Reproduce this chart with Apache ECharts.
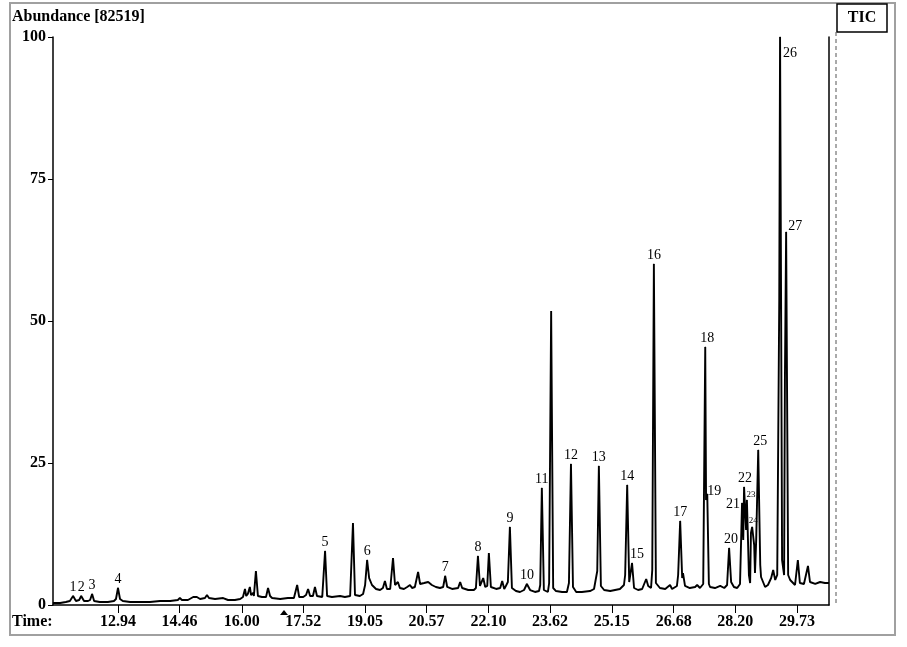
<!DOCTYPE html>
<html>
<head>
<meta charset="utf-8">
<script src="https://cdn.jsdelivr.net/npm/echarts@6/dist/echarts.min.js"></script>
<style>html,body{margin:0;padding:0;background:#fff;}#chart{width:907px;height:647px;}</style>
</head>
<body>
<div id="chart"></div>
<script>
// Retention time (min) of trace points
var times = [11.33,11.51,11.65,11.75,11.83,11.90,11.98,12.03,12.10,12.20,12.25,12.30,12.35,12.49,12.69,12.84,12.89,12.94,12.99,13.06,
13.24,13.48,13.73,13.98,14.23,14.42,14.47,14.52,14.67,14.80,14.84,14.89,14.97,15.09,15.14,15.19,15.34,15.54,15.66,15.83,
15.96,16.03,16.08,16.11,16.15,16.20,16.23,16.28,16.30,16.35,16.40,16.50,16.60,16.65,16.70,16.75,16.95,17.14,17.29,17.37,
17.42,17.52,17.59,17.64,17.69,17.76,17.81,17.86,17.99,18.03,18.06,18.11,18.23,18.43,18.55,18.68,18.75,18.80,18.92,19.00,
19.05,19.10,19.15,19.22,19.32,19.42,19.49,19.54,19.59,19.67,19.74,19.79,19.86,19.91,20.01,20.09,20.16,20.21,20.28,20.36,
20.41,20.51,20.61,20.70,20.80,20.90,20.98,21.03,21.08,21.20,21.35,21.40,21.45,21.60,21.74,21.79,21.84,21.89,21.97,22.02,
22.07,22.11,22.16,22.29,22.39,22.44,22.49,22.53,22.58,22.63,22.68,22.78,22.88,22.98,23.05,23.13,23.25,23.35,23.38,23.42,
23.47,23.57,23.60,23.65,23.70,23.77,23.92,24.04,24.09,24.14,24.19,24.27,24.41,24.61,24.71,24.79,24.83,24.88,24.96,25.11,
25.23,25.35,25.45,25.48,25.53,25.58,25.65,25.70,25.80,25.90,26.00,26.05,26.12,26.15,26.19,26.24,26.34,26.47,26.59,26.64,
26.76,26.79,26.84,26.89,26.91,26.96,27.08,27.21,27.26,27.33,27.41,27.46,27.48,27.51,27.55,27.58,27.70,27.83,27.93,28.00,
28.05,28.10,28.17,28.25,28.32,28.37,28.40,28.42,28.47,28.49,28.54,28.57,28.59,28.62,28.67,28.69,28.72,28.77,28.82,28.84,
28.94,29.01,29.09,29.14,29.19,29.24,29.29,29.31,29.36,29.41,29.43,29.46,29.51,29.56,29.68,29.75,29.80,29.90,30.00,30.05,
30.18,30.30,30.42,30.52];
// Relative abundance (%) of trace points
var abundance = [0.35,0.35,0.53,0.70,1.58,0.70,0.88,1.58,0.70,0.70,0.88,1.94,0.70,0.53,0.53,0.70,1.06,2.99,1.06,0.70,
0.53,0.53,0.53,0.70,0.70,0.88,1.23,0.88,0.88,1.41,1.58,1.41,1.06,1.23,1.76,1.23,1.06,1.23,0.88,0.88,
1.06,1.41,2.82,1.58,1.94,3.17,1.76,2.11,1.58,5.99,1.58,1.41,1.41,2.99,1.58,1.23,1.06,1.23,1.23,3.52,
1.41,1.41,1.76,2.82,1.58,1.58,3.17,1.58,1.41,1.58,9.51,1.58,1.41,1.58,1.41,1.58,14.44,1.76,1.58,1.94,
3.52,7.92,4.75,3.52,2.82,2.64,2.99,4.23,2.82,2.82,8.27,3.52,4.05,2.99,2.82,3.17,3.52,2.99,3.17,5.81,
3.70,3.87,4.05,3.52,3.17,2.99,3.17,5.11,3.17,2.82,2.99,4.05,2.99,2.64,2.64,2.99,8.63,3.35,4.75,3.17,
3.35,9.15,3.17,2.82,2.99,4.23,2.82,3.35,4.05,13.73,2.99,2.46,2.29,2.64,3.70,2.64,2.29,2.46,3.52,20.60,
2.64,2.29,3.87,51.76,2.99,2.46,2.29,2.29,3.87,24.82,3.17,2.29,2.29,2.46,2.82,5.99,24.47,3.35,2.64,2.46,
2.64,2.82,3.52,5.28,21.13,4.05,7.39,2.99,2.64,2.82,4.58,3.35,2.99,6.16,60.04,3.87,2.99,2.82,3.52,2.82,
3.35,5.28,14.79,4.75,5.63,3.35,2.99,3.17,3.52,2.99,3.70,45.42,18.49,19.54,3.70,3.17,2.99,3.35,2.99,3.52,
10.04,4.05,3.17,2.99,3.70,17.96,11.44,20.77,13.20,18.49,5.28,3.87,12.68,13.73,10.56,5.63,11.44,27.29,7.04,4.93,
3.17,3.52,4.75,6.16,4.40,5.28,53.70,100,7.92,5.28,39.61,65.67,5.28,4.40,3.52,7.92,3.87,3.70,6.87,4.05,
3.70,4.05,3.87,3.87];
// Numbered peaks
var peakNumbers = [1,2,3,4,5,6,7,8,9,10,11,12,13,14,15,16,17,18,19,20,21,22,23,24,25,26,27];
var peakTimes = [11.83,12.03,12.30,12.94,18.06,19.10,21.03,21.84,22.63,23.05,23.42,24.14,24.83,25.53,25.65,26.19,26.84,27.46,27.51,28.05,28.37,28.42,28.49,28.62,28.77,29.31,29.46];
var peakHeights = [1.58,1.58,1.94,2.99,9.51,7.92,5.11,8.63,13.73,3.70,20.60,24.82,24.47,21.13,7.39,60.04,14.79,45.42,19.54,10.04,17.96,20.77,18.49,13.73,27.29,100,65.67];
// Axis tick labels
var xTickLabels = [12.94,14.46,16.00,17.52,19.05,20.57,22.10,23.62,25.15,26.68,28.20,29.73];
var yTickLabels = [0,25,50,75,100];
var xMin = 11.333, xMax = 30.52;

var trace = times.map(function(t,i){return [t, abundance[i]];});

var labelStyle = {
  15:{offset:[5,0]},
  18:{offset:[2,0]},
  19:{offset:[7,6]},
  20:{offset:[2,0]},
  21:{offset:[-9,10]},
  22:{offset:[1,0]},
  23:{offset:[4,1],fontSize:9},
  24:{offset:[1,0],fontSize:9},
  25:{offset:[2,0]},
  26:{offset:[10,25]},
  27:{offset:[9,3]}
};
var peakData = peakNumbers.map(function(n,i){
  var s = labelStyle[n] || {};
  var item = {value:[peakTimes[i], peakHeights[i]], name:String(n)};
  item.label = {offset: s.offset || [0,0], fontSize: s.fontSize || 14};
  return item;
});

var serif = 'Liberation Serif, Times New Roman, serif';
var chart = echarts.init(document.getElementById('chart'));
chart.setOption({
  animation:false,
  backgroundColor:'#fff',
  grid:{left:53, top:37, right:78, bottom:42},
  xAxis:[{
    type:'value', min:xMin, max:xMax,
    axisLine:{show:false},
    axisTick:{show:true, customValues:xTickLabels, length:8, inside:false, lineStyle:{color:'#000', width:1}},
    axisLabel:{show:true, customValues:xTickLabels, margin:9, fontFamily:serif, fontWeight:'bold', fontSize:16, color:'#000',
      formatter:function(v){return v.toFixed(2);}},
    splitLine:{show:false}
  },{
    type:'value', min:xMin, max:xMax, position:'top',
    axisLine:{show:true, lineStyle:{color:'#000', width:1.5}},
    axisTick:{show:false}, axisLabel:{show:false}, splitLine:{show:false}
  }],
  yAxis:[{
    type:'value', min:0, max:100, interval:25,
    axisLine:{show:true, lineStyle:{color:'#000', width:1.5}},
    axisTick:{show:true, length:5, lineStyle:{color:'#000'}},
    axisLabel:{show:true, customValues:yTickLabels, margin:7, fontFamily:serif, fontWeight:'bold', fontSize:16, color:'#000'},
    splitLine:{show:false}
  },{
    type:'value', min:0, max:100, position:'right',
    axisLine:{show:true, lineStyle:{color:'#000', width:1.5}},
    axisTick:{show:false}, axisLabel:{show:false}, splitLine:{show:false}
  }],
  series:[{
    type:'line', data:trace, showSymbol:false, symbol:'none', smooth:false,
    lineStyle:{color:'#000', width:1.9}, z:3
  },{
    type:'scatter', data:peakData, symbolSize:1, itemStyle:{color:'#000', opacity:1},
    label:{show:true, position:'top', distance:1, fontFamily:serif, color:'#000', opacity:1,
      formatter:function(p){return p.name;}}, z:4
  }],
  graphic:[
    {type:'rect', shape:{x:10, y:3, width:885, height:632}, style:{fill:'none', stroke:'#a0a0a0', lineWidth:2}},
    {type:'text', x:12, y:17, style:{text:'Abundance [82519]', font:'bold 16px ' + serif, fill:'#000', verticalAlign:'middle', textAlign:'left'}},
    {type:'text', x:12, y:622, style:{text:'Time:', font:'bold 16px ' + serif, fill:'#000', verticalAlign:'middle', textAlign:'left'}},
    {type:'rect', shape:{x:837, y:4, width:50, height:28}, style:{fill:'#fff', stroke:'#000', lineWidth:1.5}},
    {type:'text', x:862, y:18, style:{text:'TIC', font:'bold 16px ' + serif, fill:'#000', verticalAlign:'middle', textAlign:'center'}},
    {type:'line', shape:{x1:836, y1:32, x2:836, y2:605}, style:{stroke:'#555', lineWidth:1, lineDash:[4,3]}},
    {type:'polygon', shape:{points:[[280,615],[288,615],[284,610]]}, style:{fill:'#000'}}
  ]
});
</script>
</body>
</html>
